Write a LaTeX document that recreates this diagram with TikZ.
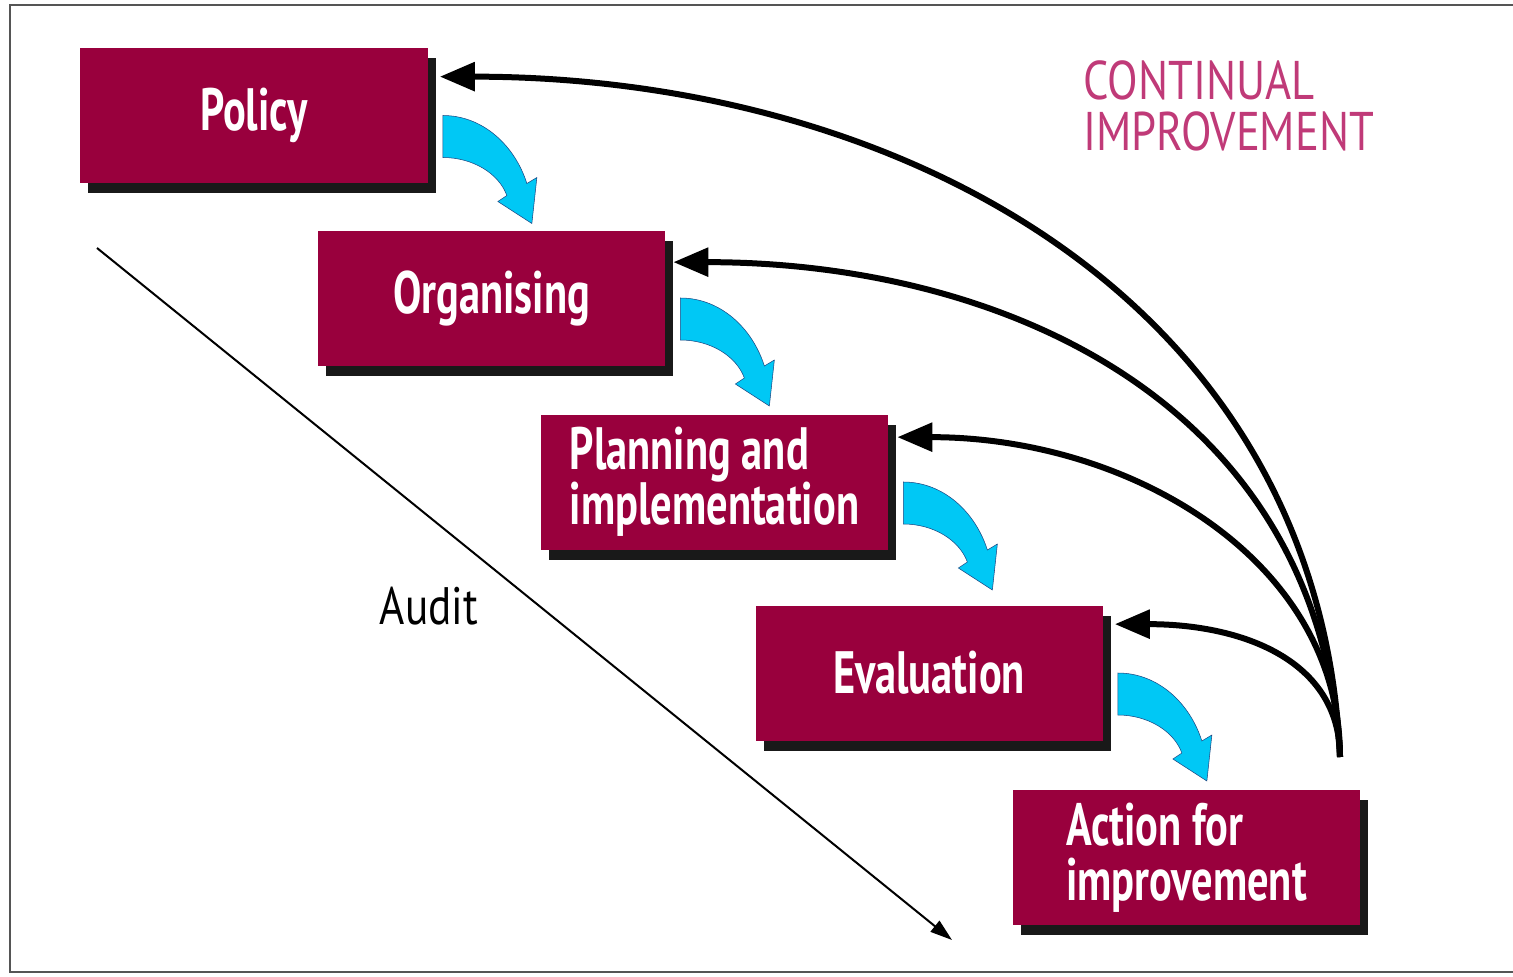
\documentclass[tikz,border=0pt]{standalone}
\usepackage{fontspec}
\setmainfont{PT Sans}
\newfontfamily\stagefont[FakeStretch=0.71]{PT Sans}
\newfontfamily\notefont[FakeStretch=0.82]{PT Sans}
\usetikzlibrary{arrows.meta,shadows}
\definecolor{stagered}{RGB}{153,0,61}
\definecolor{flowcyan}{RGB}{0,200,245}
\definecolor{flowedge}{RGB}{30,70,130}
\definecolor{notepink}{RGB}{192,58,120}
\definecolor{framegray}{RGB}{85,85,85}
\tikzset{
  stage/.style={fill=stagered, text=white, minimum width=69.4mm, minimum height=27mm,
    inner sep=0pt, align=left, font=\stagefont\bfseries\fontsize{34}{31.5}\selectfont,
    drop shadow={shadow xshift=1.6mm, shadow yshift=-2mm, fill=black!90, opacity=1}},
  loopback/.style={line width=1.2mm, -{Triangle[length=7mm,width=5.6mm]}},
  flowarrow/.pic={
    \draw[fill=flowcyan, draw=flowedge, line width=0.3pt]
      (0,0) .. controls (40,0) and (72,30) .. (84,68) -- (94,62) -- (89,108)
      -- (55,86) -- (64,80) .. controls (56,58) and (30,42) .. (0,42) -- cycle;
  }
}
\begin{document}
\begin{tikzpicture}[x=0.2mm, y=-0.2mm]
  \useasboundingbox[fill=white] (0,0) rectangle (1513,977);
  \draw[framegray, line width=0.4mm] (1513,5) -- (10,5) -- (10,972) -- (1513,972);

  \node[stage] (policy) at (254,115.5) {Policy};
  \node[stage] (organising) at (491.5,298) {Organising};
  \node[stage] (planning) at (714.5,482) {Planning and\\implementation};
  \node[stage] (evaluation) at (929,673) {Evaluation};
  \node[stage] (action) at (1186.5,857.5) {Action for\\improvement};

  \foreach \from in {policy,organising,planning,evaluation}
    \pic at ([xshift=3mm]\from.east) {flowarrow};

  % feedback arcs
  \coordinate (fanroot) at (1340,757);
  \coordinate (policyin) at ([shift={(12,29)}]policy.north east);
  \coordinate (organisingin) at ([shift={(8,32)}]organising.north east);
  \coordinate (planningin) at ([shift={(9,23)}]planning.north east);
  \coordinate (evaluationin) at ([shift={(12,19)}]evaluation.north east);
  \draw[loopback] (fanroot) .. controls +(-20,-457) and +(460,0) .. (policyin);
  \draw[loopback] (fanroot) .. controls +(-20,-357) and +(327,0) .. (organisingin);
  \draw[loopback] (fanroot) .. controls +(0,-197) and +(233,0) .. (planningin);
  \draw[loopback] (fanroot) .. controls +(0,-97) and +(127,0) .. (evaluationin);

  % audit
  \coordinate (auditstart) at (97,248);
  \coordinate (auditend) at (952,940);
  \draw[line width=0.4mm, -{Triangle[length=4.4mm,width=2.8mm]}] (auditstart) -- (auditend);
  \node[font=\notefont\fontsize{30}{30}\selectfont] (audit) at (429,606) {Audit};

  \node[anchor=north west, inner sep=0pt, align=left, text=notepink,
    font=\notefont\fontsize{31}{29}\selectfont] (continual) at (1083,60)
    {CONTINUAL\\IMPROVEMENT};
\end{tikzpicture}
\end{document}
